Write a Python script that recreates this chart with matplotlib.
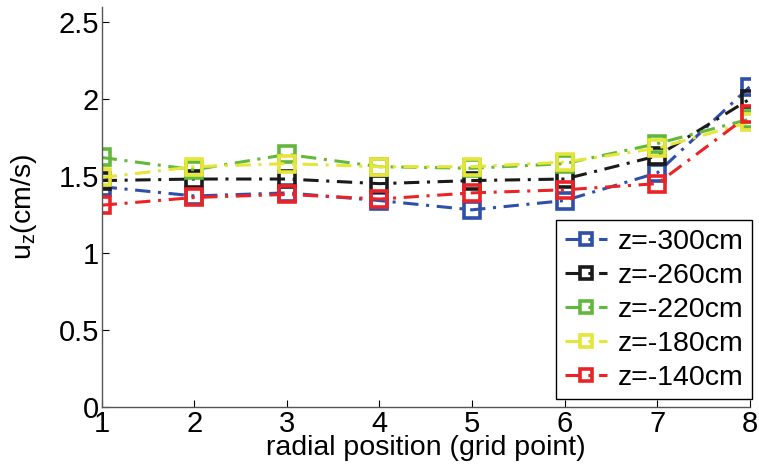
import numpy as np
import matplotlib
matplotlib.use("Agg")
import matplotlib.pyplot as plt

plt.rcParams['font.family'] = ['Liberation Sans', 'DejaVu Sans']

grid_points = [1, 2, 3, 4, 5, 6, 7, 8]
uz_300 = [1.43, 1.37, 1.39, 1.34, 1.28, 1.34, 1.52, 2.08]
uz_260 = [1.47, 1.48, 1.48, 1.45, 1.47, 1.48, 1.63, 2.00]
uz_220 = [1.62, 1.54, 1.64, 1.56, 1.55, 1.58, 1.71, 1.87]
uz_180 = [1.49, 1.56, 1.58, 1.56, 1.56, 1.59, 1.68, 1.85]
uz_140 = [1.31, 1.36, 1.38, 1.35, 1.39, 1.41, 1.45, 1.90]

series = [
    ('z=-300cm', uz_300, '#2f4fa8'),
    ('z=-260cm', uz_260, '#1a1a1a'),
    ('z=-220cm', uz_220, '#62b83a'),
    ('z=-180cm', uz_180, '#e6e63a'),
    ('z=-140cm', uz_140, '#ec2326'),
]

fig = plt.figure(figsize=(7.59, 4.72), dpi=100)
ax = fig.add_axes([0.134, 0.138, 0.854, 0.848])

for name, vals, col in series:
    ax.plot(grid_points, vals, linestyle=(0, (5, 2.5, 1, 2.5)), color=col, lw=2.2,
            marker='s', markersize=11.5, markerfacecolor='none',
            markeredgewidth=2.6, markeredgecolor=col, label=name)

ax.set_xlim(1, 8)
ax.set_ylim(0, 2.6)
ax.set_xticks(grid_points)
ax.set_yticks([0, 0.5, 1, 1.5, 2, 2.5])
ax.set_yticklabels(['0', '0.5', '1', '1.5', '2', '2.5'])
ax.tick_params(direction='in', length=5, labelsize=21, width=0.8, pad=2)
ax.spines['top'].set_visible(False)
ax.spines['right'].set_visible(False)
for s in ['left', 'bottom']:
    ax.spines[s].set_color('#555555')
    ax.spines[s].set_linewidth(1.0)

ax.set_xlabel('radial position (grid point)', fontsize=20.5, labelpad=-2)
ax.set_ylabel(r'u$_\mathregular{z}$(cm/s)', fontsize=20.5, labelpad=14)

leg = ax.legend(loc='lower right', fontsize=20.5, handlelength=1.5,
                handletextpad=0.35, borderpad=0.3, labelspacing=0.28,
                fancybox=False, framealpha=1, edgecolor='black',
                bbox_to_anchor=(1.025, -0.017))
leg.get_frame().set_linewidth(1.0)
for h in leg.legend_handles:
    h.set_markersize(9)

fig.savefig('out.png', dpi=100)
